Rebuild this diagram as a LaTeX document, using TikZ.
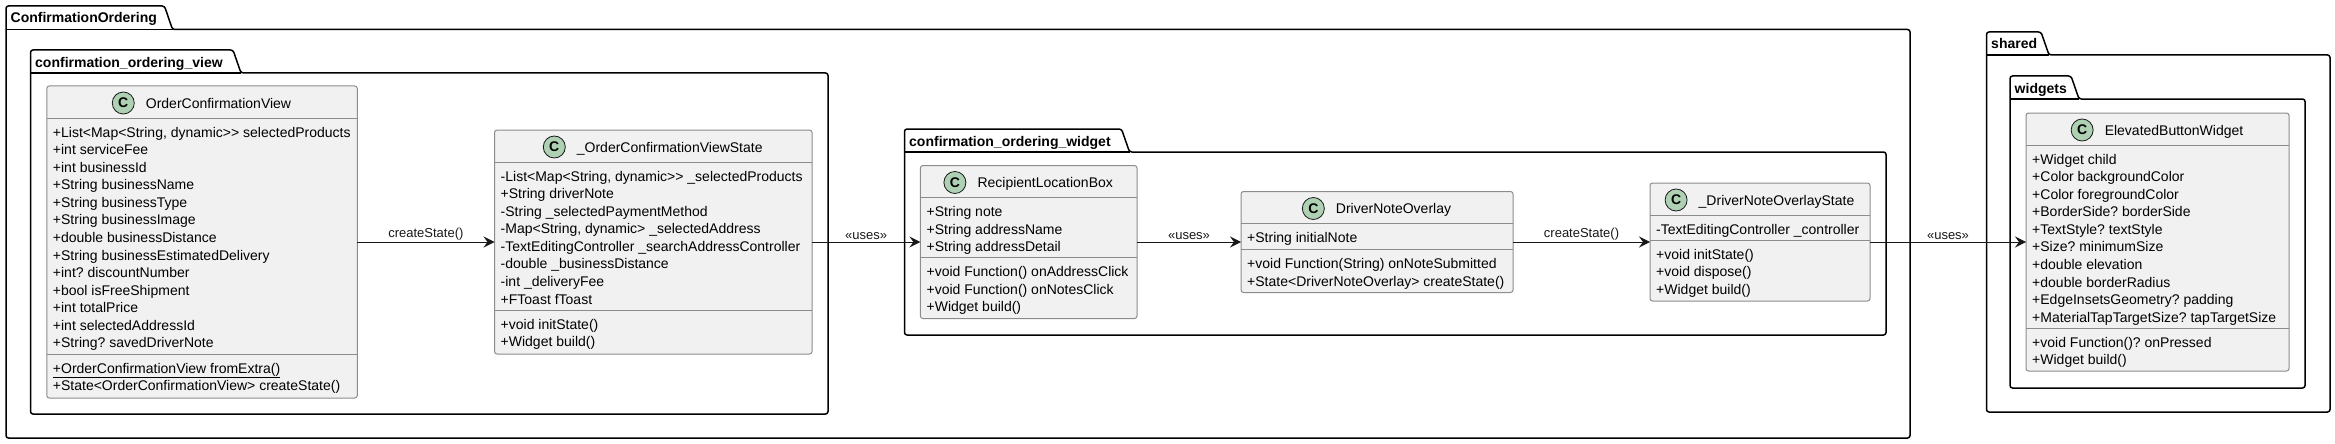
\documentclass[tikz,border=0pt]{standalone}
\usepackage{fontspec}
\setmainfont{Liberation Sans}
\usetikzlibrary{positioning,arrows.meta}

\definecolor{classfill}{HTML}{F1F1F1}
\definecolor{classedge}{HTML}{8C8C8C}
\definecolor{badgefill}{HTML}{ADD1B2}
\definecolor{inkline}{HTML}{181818}

\tikzset{
	classbox/.style={draw=classedge,fill=classfill,line width=1pt,rounded corners=2.5pt,inner sep=0pt,outer sep=0pt},
	splitline/.style={draw=classedge,line width=1pt},
	classtitle/.style={inner sep=0pt,font=\fontsize{14pt}{16pt}\selectfont},
	classbadge/.style={circle,draw=inkline,fill=badgefill,line width=0.8pt,minimum size=22pt,inner sep=0pt,font=\fontsize{14pt}{16pt}\selectfont\bfseries},
	memberlist/.style={anchor=north west,inner sep=0pt,align=left,font=\fontsize{14pt}{17.55pt}\selectfont\frenchspacing},
	pkgline/.style={draw=black,line width=1.5pt,rounded corners=2.5pt},
	pkgtitle/.style={anchor=base west,inner sep=0pt,font=\fontsize{14pt}{16pt}\selectfont\bfseries},
	relarrow/.style={draw=inkline,line width=1pt,-{Stealth[length=11pt,width=11pt,inset=4pt]}},
	rellabel/.style={above=1.5pt,inner sep=0pt,text=inkline,font=\fontsize{13pt}{15pt}\selectfont}
}

\newcommand{\linestrut}{\rule{0pt}{11pt}}

\newcommand{\umlpackage}[8]{
	\draw[pkgline] (#2,#7) -- (#2,#3) -- (#4,#3) -- (#4+8,#5) -- (#6,#5) -- (#6,#7) -- cycle;
	\draw[draw=black,line width=1.5pt] (#2,#5) -- (#4+8,#5);
	\node[pkgtitle] (#1) at (#2+4.5,#3+17) {#8};
}

\newcommand{\umlclass}[8]{
	\node[classbox,minimum width=#3pt,minimum height=#4pt] (#1) at (#2,242) {};
	\draw[splitline] ([yshift=-32pt]#1.north west) -- ([yshift=-32pt]#1.north east);
	\draw[splitline] ([yshift=-#5pt]#1.north west) -- ([yshift=-#5pt]#1.north east);
	\node[classtitle,anchor=base] (#1title) at ([xshift=16.5pt,yshift=-22pt]#1.north) {#6};
	\node[classbadge,anchor=east] (#1badge) at ([xshift=-11pt,yshift=-17pt]#1title.west |- #1.north) {C};
	\node[memberlist] (#1fields) at ([xshift=6pt,yshift=-40pt]#1.north west) {\linestrut#7};
	\node[memberlist] (#1methods) at ([xshift=6pt,yshift=-#5pt-8pt]#1.north west) {\linestrut#8};
}

\begin{document}
\begin{tikzpicture}[x=1pt,y=-1pt]
	\useasboundingbox (0,0) rectangle (2335,444);

	\umlpackage{confirmationordering}{6}{6}{164.5}{29.5}{1910}{438}{ConfirmationOrdering}
	\umlpackage{orderingview}{30.5}{50}{233}{73}{828}{414}{confirmation\_ordering\_view}
	\umlpackage{orderingwidget}{904.5}{129}{1121.5}{152}{1886}{335}{confirmation\_ordering\_widget}
	\umlpackage{shared}{1986.5}{32}{2041}{55}{2330}{412}{shared}
	\umlpackage{widgets}{2010}{76}{2071}{99}{2305}{388}{widgets}

	\umlclass{orderview}{202}{310.5}{312}{268}{OrderConfirmationView}{+List<Map<String, dynamic>{}> selectedProducts\\+int serviceFee\\+int businessId\\+String businessName\\+String businessType\\+String businessImage\\+double businessDistance\\+String businessEstimatedDelivery\\+int? discountNumber\\+bool isFreeShipment\\+int totalPrice\\+int selectedAddressId\\+String? savedDriverNote}{\underline{+OrderConfirmationView fromExtra()}\\+State<OrderConfirmationView> createState()}
	\umlclass{orderstate}{653.25}{317.5}{224}{180}{\_OrderConfirmationViewState}{-List<Map<String, dynamic>{}> \_selectedProducts\\+String driverNote\\-String \_selectedPaymentMethod\\-Map<String, dynamic> \_selectedAddress\\-TextEditingController \_searchAddressController\\-double \_businessDistance\\-int \_deliveryFee\\+FToast fToast}{+void initState()\\+Widget build()}
	\umlclass{locationbox}{1028.7}{216.6}{153}{92}{RecipientLocationBox}{+String note\\+String addressName\\+String addressDetail}{+void Function() onAddressClick\\+void Function() onNotesClick\\+Widget build()}
	\umlclass{noteoverlay}{1377}{272}{101}{58}{DriverNoteOverlay}{+String initialNote}{+void Function(String) onNoteSubmitted\\+State<DriverNoteOverlay> createState()}
	\umlclass{overlaystate}{1760}{220}{118}{57}{\_DriverNoteOverlayState}{-TextEditingController \_controller}{+void initState()\\+void dispose()\\+Widget build()}
	\umlclass{elevatedbutton}{2157.5}{263}{258}{215}{ElevatedButtonWidget}{+Widget child\\+Color backgroundColor\\+Color foregroundColor\\+BorderSide? borderSide\\+TextStyle? textStyle\\+Size? minimumSize\\+double elevation\\+double borderRadius\\+EdgeInsetsGeometry? padding\\+MaterialTapTargetSize? tapTargetSize}{+void Function()? onPressed\\+Widget build()}

	\draw[relarrow] (orderview) -- node[rellabel]{createState()} (orderstate);
	\draw[relarrow] (orderstate) -- node[rellabel]{«uses»} (locationbox);
	\draw[relarrow] (locationbox) -- node[rellabel]{«uses»} (noteoverlay);
	\draw[relarrow] (noteoverlay) -- node[rellabel]{createState()} (overlaystate);
	\draw[relarrow] (overlaystate) -- node[rellabel]{«uses»} (elevatedbutton);
\end{tikzpicture}
\end{document}
